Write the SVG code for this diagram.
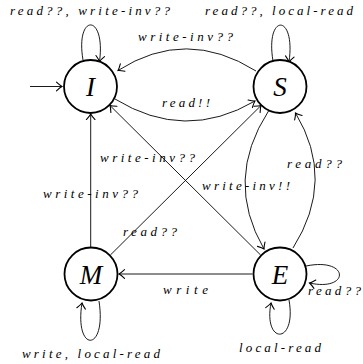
<svg xmlns="http://www.w3.org/2000/svg" width="363" height="364" viewBox="0 0 363 364">
  <style>
    .state { fill: #fff; stroke: #000; stroke-width: 1.8; }
    .name { font-family: "Liberation Serif", "DejaVu Serif", serif; font-style: italic; font-size: 27px; text-anchor: middle; fill: #000; }
    .edge { fill: none; stroke: #000; stroke-width: 0.9; marker-end: url(#tip); }
    .lbl { font-family: "Liberation Serif", "DejaVu Serif", serif; font-style: italic; font-size: 13px; fill: #000; }
  </style>
  <defs>
    <marker id="tip" markerUnits="userSpaceOnUse" markerWidth="12" markerHeight="12" viewBox="-6 -5 8 10" refX="0" refY="0" orient="auto" overflow="visible">
      <path d="M -4.6 -3.6 Q -1.6 -0.8 0 0 Q -1.6 0.8 -4.6 3.6" fill="none" stroke="#000" stroke-width="0.9" stroke-linecap="round"/>
    </marker>
  </defs>
  <rect width="363" height="364" fill="#fff"/>

  <g id="connectors">
    <!-- start arrow -->
    <path class="edge" d="M 30 86.5 L 62 86.5"/>
    <!-- self loops -->
    <path class="edge" d="M 83 60 C 75 13, 106 13, 99.5 61.5"/>
    <path class="edge" d="M 273 61 C 265 13, 296 13, 289 62"/>
    <path class="edge" d="M 99 301 C 107 353, 74 353, 82 303"/>
    <path class="edge" d="M 289 300 C 297 345, 263 345, 271 303"/>
    <path class="edge" d="M 306 266 C 350 257, 350 292, 309.5 283"/>
    <!-- I <-> S -->
    <path class="edge" d="M 256 71 Q 186 27 118 70.5"/>
    <path class="edge" d="M 115 99 Q 185 142 255 101"/>
    <!-- M -> I -->
    <path class="edge" d="M 90.7 247 L 90.7 114"/>
    <!-- E -> I and M -> S -->
    <path class="edge" d="M 260.6 255 L 110 105.5"/>
    <path class="edge" d="M 110.4 255 L 261 105.5"/>
    <!-- E -> M -->
    <path class="edge" d="M 252.5 274 L 119 274"/>
    <!-- S -> E and E -> S -->
    <path class="edge" d="M 268.5 111 Q 224 180 264 249"/>
    <path class="edge" d="M 293 248 Q 336 180 295.5 113"/>
  </g>

  <g id="node-I">
    <circle class="state" cx="90.5" cy="86.5" r="26.5"/>
    <text class="name" x="90.5" y="96">I</text>
  </g>
  <g id="node-S">
    <circle class="state" cx="280" cy="86.5" r="26.5"/>
    <text class="name" x="280" y="96">S</text>
  </g>
  <g id="node-M">
    <circle class="state" cx="91" cy="274" r="26.5"/>
    <text class="name" x="91" y="283.5">M</text>
  </g>
  <g id="node-E">
    <circle class="state" cx="280" cy="274" r="26.5"/>
    <text class="name" x="280" y="283.5">E</text>
  </g>

  <g id="labels">
    <text class="lbl" x="10" y="15" textLength="160" lengthAdjust="spacing">read??, write-inv??</text>
    <text class="lbl" x="205" y="15" textLength="148" lengthAdjust="spacing">read??, local-read</text>
    <text class="lbl" x="138" y="41" textLength="95" lengthAdjust="spacing">write-inv??</text>
    <text class="lbl" x="162" y="107" textLength="48" lengthAdjust="spacing">read!!</text>
    <text class="lbl" x="100" y="162" textLength="95" lengthAdjust="spacing">write-inv??</text>
    <text class="lbl" x="43" y="198" textLength="95" lengthAdjust="spacing">write-inv??</text>
    <text class="lbl" x="202" y="190" textLength="88" lengthAdjust="spacing">write-inv!!</text>
    <text class="lbl" x="287" y="168" textLength="55" lengthAdjust="spacing">read??</text>
    <text class="lbl" x="123" y="236" textLength="54" lengthAdjust="spacing">read??</text>
    <text class="lbl" x="163" y="294" textLength="45" lengthAdjust="spacing">write</text>
    <text class="lbl" x="308" y="295" textLength="53" lengthAdjust="spacing">read??</text>
    <text class="lbl" x="22" y="358" textLength="138" lengthAdjust="spacing">write, local-read</text>
    <text class="lbl" x="239" y="352" textLength="82" lengthAdjust="spacing">local-read</text>
  </g>
</svg>
